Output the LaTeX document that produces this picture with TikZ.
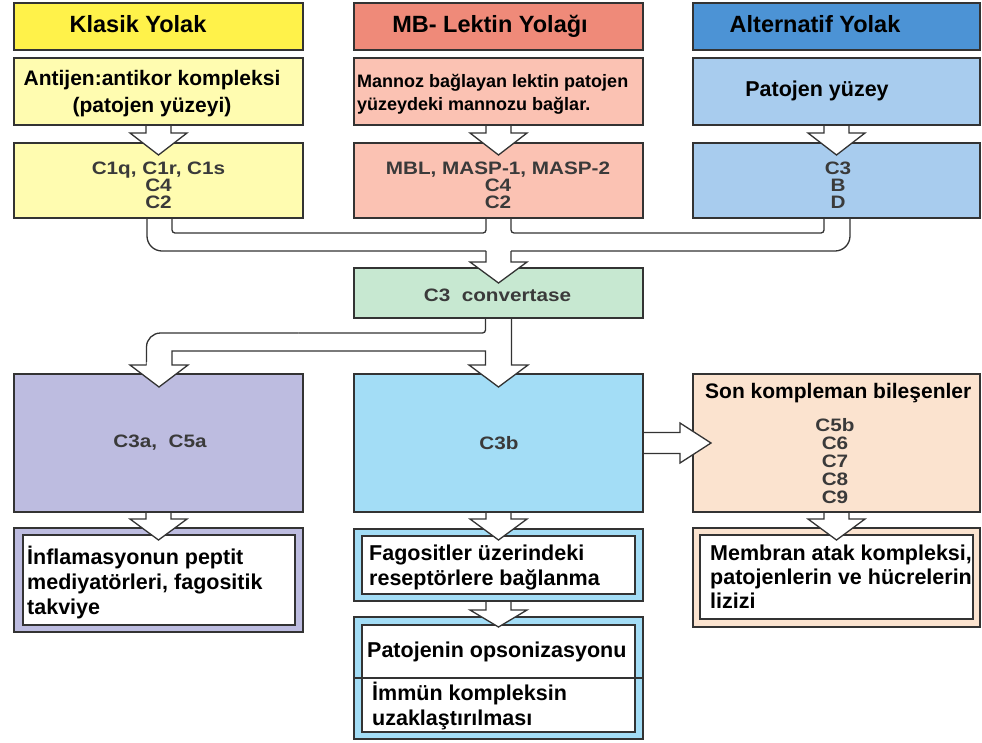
\documentclass[tikz,border=0pt]{standalone}
\usepackage{fontspec}
\setmainfont{Liberation Sans}
\newfontfamily\labfont{Liberation Sans}[FakeStretch=1.15]
\usetikzlibrary{calc}
\definecolor{bord}{HTML}{333333}
\definecolor{labgray}{HTML}{3A3A3A}
\definecolor{hy}{HTML}{FFF24A}
\definecolor{ly}{HTML}{FFFCB0}
\definecolor{hr}{HTML}{EF8A79}
\definecolor{lr}{HTML}{FBC2B3}
\definecolor{hb}{HTML}{4C93D5}
\definecolor{lb}{HTML}{A8CCEE}
\definecolor{gr}{HTML}{C7E8D1}
\definecolor{lav}{HTML}{BDBCE0}
\definecolor{cy}{HTML}{A3DDF6}
\definecolor{pe}{HTML}{FBE3CF}
\newcommand{\dnblk}[4]{%
  \fill[white] ($(#1)+(-#2,1)$) -- ($(#1)+(-#2,#3)$) -- ($(#1)+(-28.5,#3)$) -- ($(#1)+(0,#4)$) -- ($(#1)+(28.5,#3)$) -- ($(#1)+(#2,#3)$) -- ($(#1)+(#2,1)$) -- cycle;
  \draw[conn] ($(#1)+(-#2,0)$) -- ($(#1)+(-#2,#3)$) -- ($(#1)+(-28.5,#3)$) -- ($(#1)+(0,#4)$) -- ($(#1)+(28.5,#3)$) -- ($(#1)+(#2,#3)$) -- ($(#1)+(#2,0)$);}
\begin{document}
\begin{tikzpicture}[x=1pt,y=-1pt,
  box/.style={draw=bord,line width=1.4pt,inner sep=0pt,outer sep=0pt,minimum width=289pt},
  conn/.style={draw=bord,line width=1.3pt},
  hdr/.style={font=\fontsize{23.5}{28}\selectfont\bfseries,inner sep=0pt,anchor=base},
  blk/.style={font=\fontsize{21.5}{25}\selectfont\bfseries,inner sep=0pt,align=left},
  lab/.style={font=\labfont\fontsize{18}{17}\selectfont\bfseries,text=labgray,inner sep=0pt,align=center}]
\useasboundingbox (0,0) rectangle (982,742);
\fill[white] (0,0) rectangle (982,742);

% headers
\node[box,fill=hy,minimum height=47pt] (h1) at (158.5,26.5) {};
\node[box,fill=hr,minimum height=47pt] (h2) at (498.5,26.5) {};
\node[box,fill=hb,minimum height=47pt,minimum width=287pt] (h3) at (836.5,26.5) {};
\node[hdr] (h1t) at (138,32.5) {Klasik Yolak};
\node[hdr] (h2t) at (490,32.5) {MB- Lektin Yolağı};
\node[hdr] (h3t) at (815,32.5) {Alternatif Yolak};

% row 2
\node[box,fill=ly,minimum height=67pt] (r2a) at (158.5,91.5) {};
\node[box,fill=lr,minimum height=67pt] (r2b) at (498.5,91.5) {};
\node[box,fill=lb,minimum height=67pt,minimum width=287pt] (r2c) at (836.5,91.5) {};
\node[blk,align=center,font=\fontsize{21}{27}\selectfont\bfseries] (r2at) at (152,94) {Antijen:antikor kompleksi\\(patojen yüzeyi)};
\node[blk,anchor=west,font=\fontsize{18}{22.7}\selectfont\bfseries] (r2bt) at (357,94) {Mannoz bağlayan lektin patojen\\yüzeydeki mannozu bağlar.};
\node[blk,anchor=base] (r2ct) at (817,96.5) {Patojen yüzey};

% row 3
\node[box,fill=ly,minimum height=75pt] (r3a) at (158.5,180.5) {};
\node[box,fill=lr,minimum height=75pt] (r3b) at (498.5,180.5) {};
\node[box,fill=lb,minimum height=75pt,minimum width=287pt] (r3c) at (836.5,180.5) {};
\node[lab] (r3at) at (158.5,185.5) {C1q, C1r, C1s\\C4\\C2};
\node[lab] (r3bt) at (498,185.5) {MBL, MASP-1, MASP-2\\C4\\C2};
\node[lab] (r3ct) at (838,185.5) {C3\\B\\D};

% convertase
\node[box,fill=gr,minimum height=50pt] (conv) at (498.5,293) {};
\node[lab] (convt) at (497.5,295) {C3~~convertase};

% row 4
\node[box,fill=lav,minimum height=138pt] (r4a) at (158.5,443) {};
\node[box,fill=cy,minimum height=138pt] (r4b) at (498.5,443) {};
\node[box,fill=pe,minimum height=138pt,minimum width=287pt] (r4c) at (836.5,443) {};
\node[lab] (r4at) at (160,443) {C3a,~~C5a};
\node[lab] (r4bt) at (499,443) {C3b};
\node[blk,anchor=base west,font=\fontsize{21}{25}\selectfont\bfseries] (r4ct) at (705,398) {Son kompleman bileşenler};
\node[lab,font=\labfont\fontsize{18}{18}\selectfont\bfseries] (r4cl) at (835,461) {C5b\\C6\\C7\\C8\\C9};

% row 5
\node[box,fill=lav,minimum height=104pt] (r5ao) at (158.5,580) {};
\node[box,fill=white,minimum width=272pt,minimum height=90pt] (r5a) at (159,580) {};
\node[blk,anchor=west] (r5at) at (27,583) {İnflamasyonun peptit\\mediyatörleri, fagositik\\takviye};

\node[box,fill=cy,minimum height=72pt] (fago) at (498.5,565) {};
\node[box,fill=white,minimum width=273pt,minimum height=58pt] (fag) at (498.5,565) {};
\node[blk,anchor=west] (fagt) at (369,567) {Fagositler üzerindeki\\reseptörlere bağlanma};

\node[box,fill=cy,minimum height=122pt] (pato) at (498.5,678) {};
\node[box,fill=white,minimum width=273pt,minimum height=107pt] (pat) at (498.5,678.5) {};
\draw[draw=bord,line width=1.4pt] ($(pato.north west)+(0,61)$) -- ($(pato.north east)+(0,61)$);
\node[blk,anchor=base west] (patt1) at (367,657) {Patojenin opsonizasyonu};
\node[blk,anchor=west] (patt2) at (372,706.5) {İmmün kompleksin\\uzaklaştırılması};

\node[box,fill=pe,minimum height=99pt,minimum width=287pt] (memo) at (836.5,577.5) {};
\node[box,fill=white,minimum width=273pt,minimum height=84pt] (mem) at (836.5,577) {};
\node[blk,anchor=west,font=\fontsize{21.5}{24}\selectfont\bfseries] (memt) at (710,576.5) {Membran atak kompleksi,\\patojenlerin ve hücrelerin\\lizizi};

% row2 -> row3 arrows
\dnblk{r2a.south}{12.5}{8}{30}
\dnblk{r2b.south}{12.5}{8}{30}
\dnblk{r2c.south}{12.5}{8}{30}

% merge into convertase
\draw[conn,rounded corners=15pt] ($(r3a.south)+(-11.5,0)$) |- ($(conv.north)+(-12.5,-17)$);
\draw[conn,rounded corners=15pt] ($(conv.north)+(12.5,-17)$) -| ($(r3c.south)+(13.5,0)$);
\draw[conn,rounded corners=3pt] ($(r3a.south)+(13.5,0)$) |- ($(conv.north)+(-12.5,-35)$) -- ($(r3b.south)+(-12.5,0)$);
\draw[conn,rounded corners=3pt] ($(r3b.south)+(12.5,0)$) |- ($(r3c.south)+(-12.5,15)$) -- ($(r3c.south)+(-12.5,0)$);
\fill[white] ($(conv.north)+(-12.5,-16)$) -- ($(conv.north)+(-12.5,-6)$) -- ($(conv.north)+(-28.5,-6)$) -- ($(conv.north)+(0,15)$) -- ($(conv.north)+(28.5,-6)$) -- ($(conv.north)+(12.5,-6)$) -- ($(conv.north)+(12.5,-16)$) -- cycle;
\draw[conn] ($(conv.north)+(-12.5,-17)$) -- ($(conv.north)+(-12.5,-6)$) -- ($(conv.north)+(-28.5,-6)$) -- ($(conv.north)+(0,15)$) -- ($(conv.north)+(28.5,-6)$) -- ($(conv.north)+(12.5,-6)$) -- ($(conv.north)+(12.5,-17)$);

% split from convertase
\draw[conn,rounded corners=3pt] ($(conv.south)+(-13,0)$) -- ($(conv.south)+(-13,15)$) -- ($(conv.south)+(-200,15)$);
\draw[conn,rounded corners=14pt] ($(conv.south)+(-200,15)$) -| ($(r4a.north)+(-12,-9)$);
\fill[white] ($(r4a.north)+(-12,-12)$) -- ($(r4a.north)+(-12,-9)$) -- ($(r4a.north)+(-28.5,-9)$) -- ($(r4a.north)+(0.5,13)$) -- ($(r4a.north)+(29.5,-9)$) -- ($(r4a.north)+(13.5,-9)$) -- ($(r4a.north)+(13.5,-12)$) -- cycle;
\fill[white] ($(r4b.north)+(-13,-12)$) -- ($(r4b.north)+(-13,-9)$) -- ($(r4b.north)+(-29.5,-9)$) -- ($(r4b.north)+(0,13)$) -- ($(r4b.north)+(29.5,-9)$) -- ($(r4b.north)+(13,-9)$) -- ($(r4b.north)+(13,-12)$) -- cycle;
\draw[conn] ($(r4a.north)+(-12,-9)$) -- ($(r4a.north)+(-28.5,-9)$) -- ($(r4a.north)+(0.5,13)$) -- ($(r4a.north)+(29.5,-9)$) -- ($(r4a.north)+(13.5,-9)$) -- ($(r4a.north)+(13.5,-23)$) -- ($(r4b.north)+(-13,-23)$) -- ($(r4b.north)+(-13,-9)$) -- ($(r4b.north)+(-29.5,-9)$) -- ($(r4b.north)+(0,13)$) -- ($(r4b.north)+(29.5,-9)$) -- ($(r4b.north)+(13,-9)$) -- ($(conv.south)+(13,0)$);

% C3b -> terminal components
\fill[white] ($(r4b.east)+(1,-10.5)$) -- ($(r4c.west)+(-13,-10.5)$) -- ($(r4c.west)+(-13,-20)$) -- ($(r4c.west)+(18,0)$) -- ($(r4c.west)+(-13,20)$) -- ($(r4c.west)+(-13,10.5)$) -- ($(r4b.east)+(1,10.5)$) -- cycle;
\draw[conn] ($(r4b.east)+(0,-10.5)$) -- ($(r4c.west)+(-13,-10.5)$) -- ($(r4c.west)+(-13,-20)$) -- ($(r4c.west)+(18,0)$) -- ($(r4c.west)+(-13,20)$) -- ($(r4c.west)+(-13,10.5)$) -- ($(r4b.east)+(0,10.5)$);

% row4 -> row5 arrows
\dnblk{r4a.south}{12.5}{7}{28}
\dnblk{r4b.south}{12.5}{7}{28}
\dnblk{r4c.south}{12.5}{7}{28}
\dnblk{fago.south}{12.5}{9}{26}
\end{tikzpicture}
\end{document}
